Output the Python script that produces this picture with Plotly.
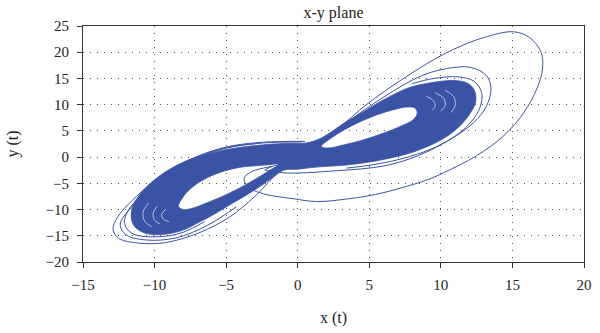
import plotly.graph_objects as go

# ---------------- data ----------------
x_ticks = [-15, -10, -5, 0, 5, 10, 15, 20]
y_ticks = [-20, -15, -10, -5, 0, 5, 10, 15, 20, 25]

# outer boundary of the densely filled attractor band
band_x = [-1.0, -1.79, -3.17, -4.54, -5.69, -6.8, -8.1, -9.7, -10.85, -11.5, -11.6, -10.95, -9.7, -7.87, -5.57, -3.28,
          -0.76, 0.6, 1.65, 3.26, 4.63, 6.0, 7.73, 9.34, 10.94, 11.86, 12.32, 12.44, 11.98, 11.17, 10.02, 8.19, 5.9,
          3.6, 1.31, 0.0]
band_y = [-2.5, -3.99, -6.54, -8.76, -10.66, -12.3, -14.0, -14.8, -14.3, -12.8, -10.0, -6.85, -3.68, -0.82, 1.09, 2.1,
          2.65, 2.7, 3.64, 6.5, 8.72, 10.94, 13.2, 14.2, 14.6, 14.1, 12.85, 10.6, 8.08, 5.55, 3.3, 1.09, -0.5,
          -1.45, -1.9, -2.3]

# empty hole of the right lobe
hole_r_x = [1.65, 2.34, 3.26, 4.4, 5.55, 6.7, 7.62, 8.19, 8.35, 8.07, 7.16, 6.01, 4.63, 3.26, 2.11]
hole_r_y = [2.04, 3.64, 5.22, 6.81, 8.08, 9.04, 9.55, 9.36, 8.4, 7.13, 5.85, 4.59, 3.32, 2.36, 1.73]

# empty hole of the left lobe
hole_l_x = [-8.33, -7.98, -7.3, -6.38, -5.23, -4.08, -2.94, -2.02, -1.33, -2.25, -3.63, -5.0, -6.38, -7.3, -7.98]
hole_l_y = [-9.4, -7.49, -5.59, -3.99, -2.72, -1.96, -1.64, -1.45, -1.32, -3.03, -5.26, -7.17, -8.76, -9.7, -10.0]

# loose trajectory loops outside the dense band
loop1_x = [1.2, 2.0, 3.5, 4.98, 8.42, 10.7, 13.0, 15.07, 16.2, 17.0, 17.1, 16.7, 15.8, 14.4, 12.5, 10.25, 9.08, 7.2, 5.44,
           3.4, 1.31, -0.4, -2.4, -3.51, -3.74, -3.17, -1.79]
loop1_y = [1.7, 3.5, 7.0, 10.4, 16.8, 20.3, 22.8, 23.9, 22.8, 20.0, 16.8, 13.0, 8.5, 4.1, 0.27, -2.9, -4.3, -5.9, -7.13,
           -8.0, -8.47, -7.9, -7.0, -5.6, -4.0, -2.72, -1.77]
loop2_x = [1.3, 2.5, 4.98, 8.4, 10.25, 12.09, 13.2, 13.5, 13.2, 12.3, 10.7, 8.4, 6.1, 2.7, -1.0, -1.6]
loop2_y = [1.7, 4.6, 9.6, 15.2, 16.8, 17.1, 15.5, 13.0, 9.8, 6.6, 3.45, 0.27, -1.64, -2.6, -3.0, -2.6]
loop3_x = [8.0, 9.5, 11.2, 12.3, 12.85, 12.75, 12.2, 11.2, 9.7, 7.8, 5.6, 3.4]
loop3_y = [14.0, 15.0, 15.3, 14.5, 12.3, 9.6, 7.0, 4.4, 2.0, 0.1, -1.3, -2.1]
loop4_x = [0.5, -2.36, -4.68, -6.95, -9.24, -11.5, -12.6, -12.9, -12.5, -11.1, -9.24, -6.95, -4.8, -3.0, -1.6, -1.2]
loop4_y = [3.0, 2.85, 2.1, 0.2, -3.0, -8.1, -11.5, -13.8, -15.5, -16.4, -16.3, -14.5, -11.5, -7.5, -3.5, -2.4]
loop5_x = [0.3, -2.4, -5.0, -7.5, -9.8, -11.6, -12.4, -12.0, -10.6, -8.5, -6.3, -4.3]
loop5_y = [2.9, 2.7, 1.7, -0.7, -4.5, -9.5, -12.8, -14.8, -15.8, -15.4, -13.0, -9.5]
loop6_x = [-3.0, -5.5, -8.0, -10.2, -11.8, -12.1, -11.6, -10.3, -8.3, -6.5]
loop6_y = [2.55, 1.5, -1.2, -5.5, -10.0, -12.6, -14.5, -15.2, -14.6, -12.3]
knot_r_x = [1.0, 1.5, 2.0, 1.8, 1.2, 1.0]
knot_r_y = [1.1, 1.6, 1.5, 1.0, 0.9, 1.1]
knot_l_x = [-2.3, -1.6, -1.0, -1.2, -2.0, -2.3]
knot_l_y = [-2.5, -1.6, -1.4, -1.9, -2.6, -2.5]

# thin white gaps visible inside the dense lobes
gaps = [
    ([9.0, 9.5, 9.6, 9.4], [11.6, 10.7, 9.7, 9.0]),
    ([9.6, 10.2, 10.3, 10.0], [12.3, 11.2, 9.8, 8.8]),
    ([10.3, 10.9, 11.0, 10.7], [12.8, 11.5, 9.8, 8.5]),
    ([-9.2, -9.5, -9.4, -9.0], [-9.9, -10.9, -11.8, -12.3]),
    ([-9.8, -10.1, -10.0, -9.6], [-9.3, -10.7, -12.0, -12.8]),
    ([-10.4, -10.8, -10.7, -10.2], [-8.7, -10.5, -12.2, -13.3]),
]

BLUE = "#3b53a5"


def area(xs, ys):
    n = len(xs)
    return 0.5 * sum(xs[i] * ys[(i + 1) % n] - xs[(i + 1) % n] * ys[i] for i in range(n))


def closed(xs, ys, ccw):
    xs, ys = list(xs), list(ys)
    if (area(xs, ys) > 0) != ccw:
        xs, ys = xs[::-1], ys[::-1]
    return xs + [xs[0]], ys + [ys[0]]


# one filled path: outer boundary plus two holes of opposite winding
fx, fy = closed(band_x, band_y, False)
for hx, hy in [(hole_r_x, hole_r_y), (hole_l_x, hole_l_y)]:
    cx, cy = closed(hx, hy, True)
    fx += [None] + cx
    fy += [None] + cy

fig = go.Figure()
fig.add_trace(go.Scatter(x=fx, y=fy, mode="lines", fill="toself", fillcolor=BLUE,
                         line=dict(color=BLUE, width=0.8, shape="spline", smoothing=1), hoverinfo="skip"))
for lx, ly in [(loop1_x, loop1_y), (loop2_x, loop2_y), (loop3_x, loop3_y), (loop4_x, loop4_y),
               (loop5_x, loop5_y), (loop6_x, loop6_y), (knot_r_x, knot_r_y), (knot_l_x, knot_l_y)]:
    fig.add_trace(go.Scatter(x=lx, y=ly, mode="lines", line=dict(color=BLUE, width=1, shape="spline"),
                             hoverinfo="skip"))
for gx, gy in gaps:
    fig.add_trace(go.Scatter(x=gx, y=gy, mode="lines",
                             line=dict(color="rgba(255,255,255,0.8)", width=0.8, shape="spline"),
                             hoverinfo="skip"))

axis_common = dict(
    ticks="outside", ticklen=5, tickwidth=1, tickcolor="#333",
    showline=True, linecolor="#333", linewidth=1.2, mirror=True,
    showgrid=True, gridcolor="#555", gridwidth=1, griddash="1px,6px",
    zeroline=False, tickfont=dict(family="Liberation Serif", size=15, color="#222"),
)
fig.update_xaxes(range=[-15, 20], tickvals=x_ticks, ticklabelstandoff=4, **axis_common,
                 title=dict(text="x (t)", standoff=19, font=dict(family="Liberation Serif", size=16, color="#222")))
fig.update_yaxes(range=[-20, 25], tickvals=y_ticks, ticklabelstandoff=5, **axis_common,
                 title=dict(text="y (t)", standoff=22, font=dict(family="Liberation Serif", size=16, color="#222")))
fig.update_layout(
    width=600, height=333,
    margin=dict(l=83, r=8, t=26, b=71),
    plot_bgcolor="white", paper_bgcolor="white", showlegend=False,
    title=dict(text="x-y plane", x=0.5, xref="paper", y=1 - 12 / 333, yref="container", yanchor="middle",
               font=dict(family="Liberation Serif", size=16, color="#222")),
)
fig.write_html("out.html")
